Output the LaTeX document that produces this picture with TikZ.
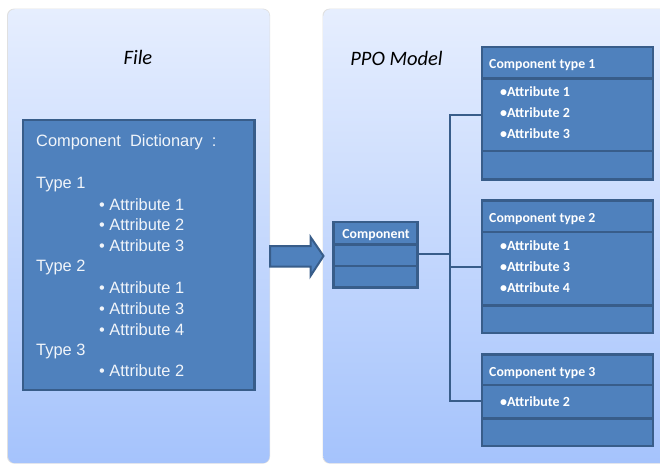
\documentclass[tikz,border=0pt]{standalone}
\usepackage{fontspec}
\setmainfont{Liberation Sans}
\newfontfamily\carl{Carlito}
\definecolor{boxfill}{HTML}{4F81BD}
\definecolor{boxline}{HTML}{385D8A}
\definecolor{paneltop}{HTML}{E6EEFE}
\definecolor{panelbot}{HTML}{A5C3FC}
\tikzset{
 x=1pt,y=-1pt,
 panel/.style={rounded corners=7pt,top color=paneltop,bottom color=panelbot,draw=none,minimum height=454pt,anchor=north west,inner sep=0pt},
 panelshade/.style={fill=black!12,rounded corners=7pt},
 bx/.style={draw=boxline,fill=boxfill,line width=2.4pt,anchor=north west,inner sep=0pt},
 rowline/.style={draw=boxline,line width=2.4pt},
 conn/.style={draw=boxline,line width=2pt},
 head/.style={text=white,font=\carl\bfseries\fontsize{13.8}{15}\selectfont,anchor=west,inner sep=0pt},
 attr/.style={text=white,font=\carl\bfseries\fontsize{14}{15}\selectfont,anchor=west,inner sep=0pt},
 dict/.style={text=white!92!boxfill,font=\fontsize{16.4}{18}\selectfont,anchor=west,inner sep=0pt},
 ttl/.style={font=\carl\itshape\fontsize{20.5}{22}\selectfont},
}
\begin{document}
\begin{tikzpicture}
\useasboundingbox (0,0) rectangle (660,464);
\clip (0,0) rectangle (660,464);
% panels
\fill[panelshade] (7,8.6) rectangle (270.1,463.6);
\fill[panelshade] (322.5,8.6) rectangle (670,463.6);
\node[panel,minimum width=261.5pt] (filepanel) at (7.8,9) {};
\node[panel,minimum width=345pt] (modelpanel) at (323.2,9) {};
\node[ttl] (filetitle) at (138,57.5) {File};
\node[ttl] (ppotitle) at (396.5,58) {PPO Model};
% dictionary
\node[bx,minimum width=231.5pt,minimum height=270pt] (dictbox) at (21.8,118.5) {};
\node[dict] (d0) at (36,142.5) {Component\hspace{4.5pt} Dictionary\hspace{4.5pt} :};
\node[dict] (d1) at (36,184.5) {Type 1};
\node[dict] (d2) at (99,204.5) {• Attribute 1};
\node[dict] (d3) at (99,225) {• Attribute 2};
\node[dict] (d4) at (99,246) {• Attribute 3};
\node[dict] (d5) at (36,267.5) {Type 2};
\node[dict] (d6) at (99,287.5) {• Attribute 1};
\node[dict] (d7) at (99,308.5) {• Attribute 3};
\node[dict] (d8) at (99,329.5) {• Attribute 4};
\node[dict] (d9) at (36,351) {Type 3};
\node[dict] (d10) at (99,370.5) {• Attribute 2};
% arrow
\path[draw=boxline,fill=boxfill,line width=2pt,line join=miter]
  (270,246) -- (310.5,246) -- (310.5,237) -- (323.5,256) -- (310.5,276) -- (310.5,266.5) -- (270,266.5) -- cycle;
% component
\node[bx,minimum width=84pt,minimum height=65.6pt] (comp) at (332.3,220.7) {};
\draw[rowline] (comp.west |- 0,244.3) -- (comp.east |- 0,244.3) (comp.west |- 0,266) -- (comp.east |- 0,266);
\node[head,anchor=center] (compt) at (376,235) {Component};
% types
\node[bx,minimum width=170.9pt,minimum height=132.3pt] (t1) at (481,46) {};
\draw[rowline] (t1.west |- 0,78.3) -- (t1.east |- 0,78.3) (t1.west |- 0,151) -- (t1.east |- 0,151);
\node[head] (t1h) at (489,65) {Component type 1};
\node[attr] (t1a) at (500,91.5) {•Attribute 1};
\node[attr] (t1b) at (500,112.5) {•Attribute 2};
\node[attr] (t1c) at (500,133.5) {•Attribute 3};
\node[bx,minimum width=170.9pt,minimum height=132.6pt] (t2) at (481,199.3) {};
\draw[rowline] (t2.west |- 0,231.7) -- (t2.east |- 0,231.7) (t2.west |- 0,305.3) -- (t2.east |- 0,305.3);
\node[head] (t2h) at (489,219) {Component type 2};
\node[attr] (t2a) at (500,245.5) {•Attribute 1};
\node[attr] (t2b) at (500,266.5) {•Attribute 3};
\node[attr] (t2c) at (500,287.5) {•Attribute 4};
\node[bx,minimum width=170.9pt,minimum height=91.6pt] (t3) at (481,353.3) {};
\draw[rowline] (t3.west |- 0,385) -- (t3.east |- 0,385) (t3.west |- 0,418.3) -- (t3.east |- 0,418.3);
\node[head] (t3h) at (489,373) {Component type 3};
\node[attr] (t3a) at (500,401.5) {•Attribute 2};
% connectors
\coordinate (trunk) at (449.7,253.5);
\coordinate (p1) at (481,114.7);
\coordinate (p2) at (481,266.7);
\coordinate (p3) at (481,400.7);
\coordinate (p0) at (418,253.5);
\draw[conn] (p0) -- (trunk);
\draw[conn] (p1) -| (trunk);
\draw[conn] (p3) -| (trunk);
\draw[conn] (p2) -- (p2 -| trunk);
\end{tikzpicture}
\end{document}
